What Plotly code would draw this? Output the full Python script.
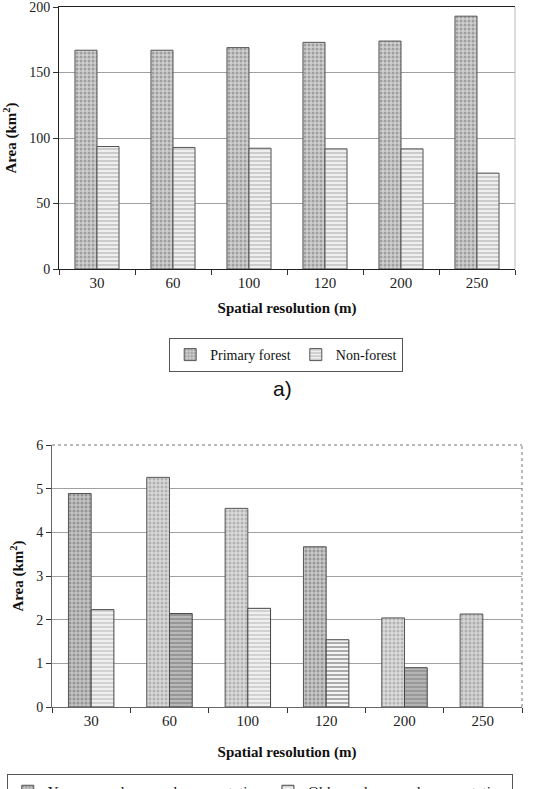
import plotly.graph_objects as go
from plotly.subplots import make_subplots

# ---- data ----
resolutions = ["30", "60", "100", "120", "200", "250"]
primary_forest = [167, 167, 169, 173, 174, 193]
non_forest = [93.5, 92.8, 92.2, 91.7, 91.7, 73.2]
young_woody = [4.89, 5.26, 4.55, 3.67, 2.04, 2.13]
old_woody = [2.23, 2.14, 2.26, 1.54, 0.90, None]
y_ticks_a = [0, 50, 100, 150, 200]
y_ticks_b = [0, 1, 2, 3, 4, 5, 6]

SERIF = "Liberation Serif, 'Times New Roman', Times, serif"
W, H = 540, 789

fig = make_subplots(rows=2, cols=1)

# Top chart
fig.add_trace(go.Bar(
    x=resolutions, y=primary_forest, name="Primary forest",
    marker=dict(color="#c4c4c4", line=dict(color="#555", width=1),
                pattern=dict(shape=".", fgcolor="#6e6e6e", bgcolor="#cfcfcf", size=4, solidity=0.45)),
    legend="legend"), row=1, col=1)
fig.add_trace(go.Bar(
    x=resolutions, y=non_forest, name="Non-forest",
    marker=dict(color="#e8e8e8", line=dict(color="#555", width=1),
                pattern=dict(shape="-", fgcolor="#8a8a8a", bgcolor="#efefef", size=4, solidity=0.35)),
    legend="legend"), row=1, col=1)

# Bottom chart
fig.add_trace(go.Bar(
    x=resolutions, y=young_woody, name="Young woody secondary vegetation",
    marker=dict(color="#c4c4c4", line=dict(color="#555", width=1),
                pattern=dict(shape=".", fgcolor=["#666", "#888", "#8a8a8a", "#666", "#8a8a8a", "#888"],
                             bgcolor=["#c4c4c4", "#d8d8d8", "#dadada", "#c8c8c8", "#dcdcdc", "#d4d4d4"],
                             size=4, solidity=0.45)),
    legend="legend2"), row=2, col=1)
fig.add_trace(go.Bar(
    x=resolutions, y=old_woody, name="Old woody secondary vegetation",
    marker=dict(color="#bdbdbd", line=dict(color="#444", width=1),
                pattern=dict(shape="-", fgcolor=["#999", "#555", "#999", "#222", "#666", "#666"],
                             bgcolor=["#f0f0f0", "#b8b8b8", "#f0f0f0", "#f4f4f4", "#b4b4b4", "#b4b4b4"],
                             size=4, solidity=0.35)),
    legend="legend2"), row=2, col=1)

def px_x(a, b):
    return [a / W, b / W]

def px_y(top, bottom):
    return [1 - bottom / H, 1 - top / H]

tickfont = dict(family=SERIF, size=15, color="#222")
ytickfont = dict(family=SERIF, size=14, color="#222")
titlefont = dict(family=SERIF, size=15, color="#111")

fig.update_layout(
    width=W, height=H,
    margin=dict(l=0, r=0, t=0, b=0, autoexpand=False),
    paper_bgcolor="white", plot_bgcolor="white",
    bargap=0.42, bargroupgap=0,
    showlegend=True,
    legend=dict(orientation="h", x=0.53, xanchor="center", y=1 - 338 / H, yanchor="top",
                bordercolor="#555", borderwidth=1, font=dict(family=SERIF, size=14, color="#111"),
                itemwidth=30, tracegroupgap=0, itemclick=False),
    legend2=dict(orientation="h", x=0.481, xanchor="center", y=1 - 774 / H, yanchor="top",
                 bordercolor="#555", borderwidth=1, font=dict(family=SERIF, size=15, color="#111"),
                 itemwidth=30),
    xaxis=dict(domain=px_x(59, 515), type="category", showline=True, linecolor="#222", mirror=True,
               ticks="outside", tickson="boundaries", ticklen=5, tickcolor="#333",
               tickfont=tickfont, showgrid=False,
               title=dict(text="<b>Spatial resolution (m)</b>", font=titlefont, standoff=12)),
    yaxis=dict(domain=px_y(7, 269), range=[0, 200], tickvals=y_ticks_a, showline=True, linecolor="#222",
               ticks="outside", ticklen=5, tickcolor="#333", tickfont=ytickfont, ticklabeloverflow="allow",
               showgrid=True, gridcolor="#a0a0a0", gridwidth=1, zeroline=False,
               title=dict(text="<b>Area (km<sup>2</sup>)</b>", font=titlefont, standoff=8)),
    xaxis2=dict(domain=px_x(52, 522), type="category", showline=True, linecolor="#666",
                ticks="outside", tickson="boundaries", ticklen=5, tickcolor="#333",
                tickfont=tickfont, showgrid=False,
                title=dict(text="<b>Spatial resolution (m)</b>", font=titlefont, standoff=18)),
    yaxis2=dict(domain=px_y(445, 707), range=[0, 6.001], tickvals=y_ticks_b, showline=True, linecolor="#666",
                ticks="outside", ticklen=5, tickcolor="#333", tickfont=ytickfont, ticklabeloverflow="allow",
                showgrid=True, gridcolor="#a0a0a0", gridwidth=1, zeroline=False,
                title=dict(text="<b>Area (km<sup>2</sup>)</b>", font=titlefont, standoff=8)),
    annotations=[dict(text="a)", xref="paper", yref="paper", x=0.524, y=1 - 388 / H,
                      xanchor="center", yanchor="middle", showarrow=False,
                      font=dict(family="Liberation Sans", size=21, color="#111"))],
    shapes=[
        dict(type="line", xref="x domain", yref="y domain", x0=1, x1=1, y0=0, y1=1,
             line=dict(color="#bbb", width=1)),
        dict(type="line", xref="x2 domain", yref="y2 domain", x0=0, x1=1, y0=1, y1=1,
             line=dict(color="#777", width=1, dash="dot")),
        dict(type="line", xref="x2 domain", yref="y2 domain", x0=1, x1=1, y0=0, y1=1,
             line=dict(color="#777", width=1, dash="dot")),
    ],
)

fig.write_html("out.html")
